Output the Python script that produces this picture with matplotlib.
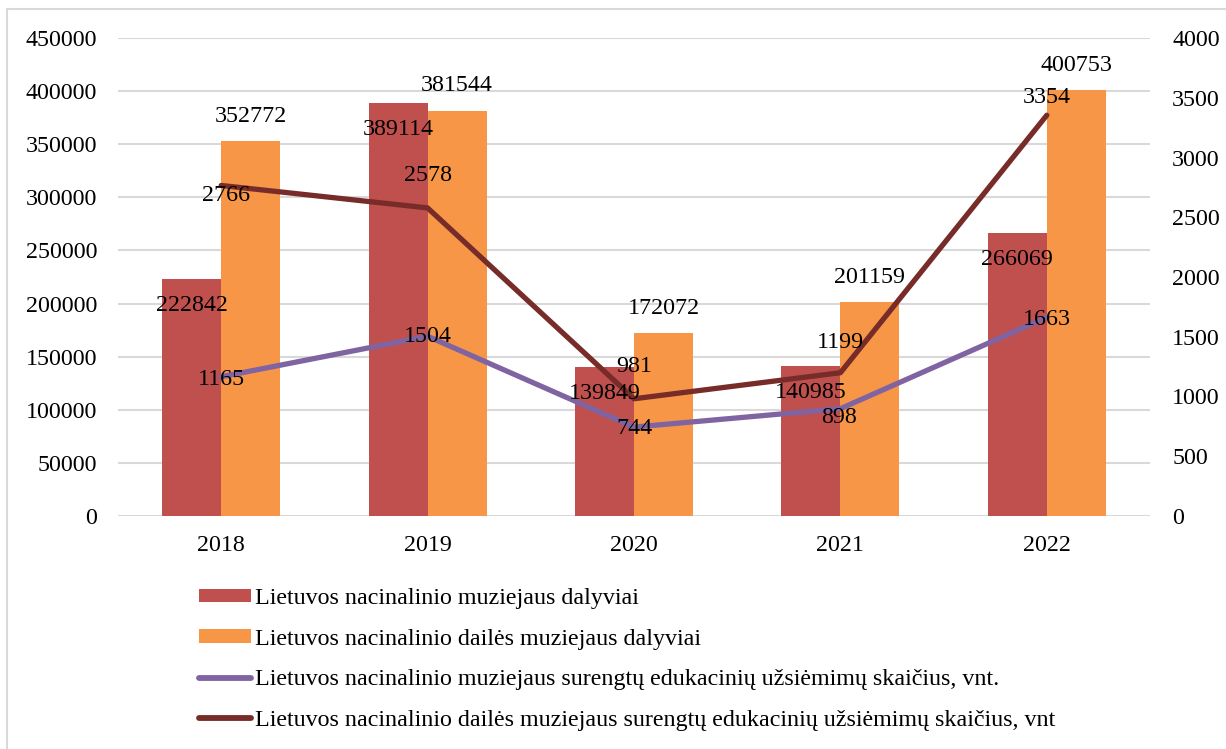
import matplotlib.pyplot as plt
from matplotlib.patches import Patch, Rectangle
from matplotlib.lines import Line2D
import numpy as np

# Data
years = ['2018', '2019', '2020', '2021', '2022']
lnm_visitors = [222842, 389114, 139849, 140985, 266069]
lndm_visitors = [352772, 381544, 172072, 201159, 400753]
lnm_events = [1165, 1504, 744, 898, 1663]
lndm_events = [2766, 2578, 981, 1199, 3354]

labels = [
    'Lietuvos nacinalinio muziejaus dalyviai',
    'Lietuvos nacinalinio dailės muziejaus dalyviai',
    'Lietuvos nacinalinio muziejaus surengtų edukacinių užsiėmimų skaičius, vnt.',
    'Lietuvos nacinalinio dailės muziejaus surengtų edukacinių užsiėmimų skaičius, vnt',
]

c_red = '#C0504D'
c_orange = '#F79646'
c_purple = '#8064A2'
c_maroon = '#772C2A'
c_grid = '#D9D9D9'

plt.rcParams['font.family'] = ['Liberation Serif', 'DejaVu Serif']
fs = 17.3

fig = plt.figure(figsize=(12.26, 7.49), dpi=100)
ax = fig.add_axes([118 / 1226, 1 - 516 / 749, (1150 - 118) / 1226, (516 - 38) / 749])
ax2 = ax.twinx()

x = np.arange(len(years))
w = 0.286
ax.bar(x - w / 2, lnm_visitors, w, color=c_red, zorder=2)
ax.bar(x + w / 2, lndm_visitors, w, color=c_orange, zorder=2)

ax.set_xlim(-0.5, len(years) - 0.5)
ax.set_ylim(0, 450000)
ax.set_yticks(np.arange(0, 450001, 50000))
ax.yaxis.grid(True, color=c_grid, linewidth=1.5, zorder=0)
ax.set_axisbelow(True)
ax.set_xticks(x)
ax.set_xticklabels(years)
ax.tick_params(axis='both', length=0, labelsize=fs)
ax.tick_params(axis='y', pad=15)
ax.tick_params(axis='x', pad=14)
for s in ax.spines.values():
    s.set_visible(False)

ax2.plot(x, lnm_events, color=c_purple, linewidth=3.8, solid_capstyle='round', zorder=3)
ax2.plot(x, lndm_events, color=c_maroon, linewidth=3.8, solid_capstyle='round', zorder=3)
ax2.set_ylim(0, 4000)
ax2.set_yticks(np.arange(0, 4001, 500))
ax2.tick_params(axis='y', length=0, labelsize=fs, pad=16)
for s in ax2.spines.values():
    s.set_visible(False)

# value labels
for i in range(len(years)):
    ax2.annotate(str(lnm_visitors[i]), (x[i] - w / 2, lnm_visitors[i] * 4000 / 450000),
                 xytext=(0, -19), textcoords='offset points', ha='center', va='center', fontsize=fs, zorder=5)
    ax2.annotate(str(lndm_visitors[i]), (x[i] + w / 2, lndm_visitors[i] * 4000 / 450000),
                 xytext=(0, 18), textcoords='offset points', ha='center', va='center', fontsize=fs, zorder=5)

maroon_off = [(3.6, -7), (0, 23), (0, 23), (0, 22), (0, 13)]
purple_off = [(0, -2), (0, 0), (0, -1), (-1, -6), (0, -1.5)]
for i in range(len(years)):
    ax2.annotate(str(lndm_events[i]), (x[i], lndm_events[i]), xytext=maroon_off[i],
                 textcoords='offset points', ha='center', va='center', fontsize=fs, zorder=5)
    ax2.annotate(str(lnm_events[i]), (x[i], lnm_events[i]), xytext=purple_off[i],
                 textcoords='offset points', ha='center', va='center', fontsize=fs, zorder=5)

handles = [
    Patch(facecolor=c_red),
    Patch(facecolor=c_orange),
    Line2D([], [], color=c_purple, linewidth=4.2, solid_capstyle='round'),
    Line2D([], [], color=c_maroon, linewidth=4.2, solid_capstyle='round'),
]
fig.legend(handles, labels, loc='upper left', bbox_to_anchor=(199 / 1226, 1 - 588 / 749),
           frameon=False, fontsize=fs, handlelength=2.15, handleheight=0.5,
           handletextpad=0.2, labelspacing=0.82, borderpad=0, borderaxespad=0)

# outer chart border
fig.patches.append(Rectangle((7 / 1226, -0.1), 1.1, 1.1 - 9 / 749, transform=fig.transFigure,
                             fill=False, edgecolor=c_grid, linewidth=1.5))

fig.savefig('out.png', dpi=100)
